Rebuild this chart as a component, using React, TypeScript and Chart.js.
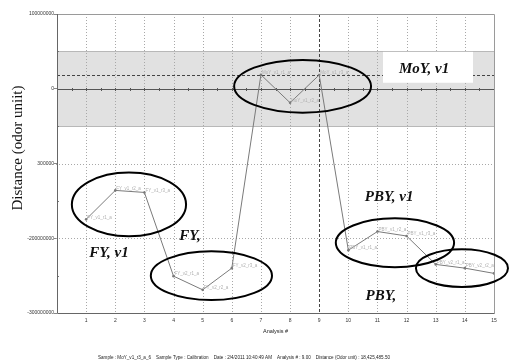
import React, { useEffect, useRef } from "react";
import { Chart, registerables } from "chart.js";

Chart.register(...registerables);

// ---- data ----
const analysisNums = [1, 2, 3, 4, 5, 6, 7, 8, 9, 10, 11, 12, 13, 14, 15];
const distances = [
  -174.7e6, -136e6, -138.7e6, -250.7e6, -269e6, -240e6, 18.7e6, -18.7e6,
  18425485.5, -216e6, -191e6, -197e6, -235e6, -240e6, -247e6,
];
const pointNames = [
  "FY_v1_r1_a", "FY_v1_r2_a", "FY_v1_r3_a", "FY_v2_r1_a", "FY_v2_r2_a",
  "FY_v2_r3_a", "MoY_v1_r1_a", "MoY_v1_r2_a", "MoY_v1_r3_a", "PBY_v1_r1_a",
  "PBY_v1_r2_a", "PBY_v1_r3_a", "PBY_v2_r1_a", "PBY_v2_r2_a", "PBY_v2_r3_a",
];
const yTickValues = [100e6, 0, -100e6, -200e6, -300e6];
const yTickLabels = ["100000000", "0", "300000", "-200000000", "-300000000"];
const xTickLabels = ["", "1", "2", "3", "4", "5", "6", "7", "8", "9", "10", "11", "12", "13", "14", "15"];
const bandRange = [-50e6, 50e6];
const hGridValues = [-100e6, -200e6];
const refAnalysis = 9;
const refDistance = 18425485.5;

const ellipseCx = [2.47, 5.3, 8.43, 11.6, 13.9];
const ellipseCy = [-154.7e6, -250e6, 3.3e6, -206e6, -240e6];
const ellipseRx = [1.96, 2.08, 2.35, 2.03, 1.58];
const ellipseRy = [42.7e6, 32.7e6, 35.3e6, 32.7e6, 25.3e6];

const noteTexts = ["FY, v1", "FY,", "MoY, v1", "PBY, v1", "PBY,"];
const noteX = [1.785, 4.566, 12.6, 11.4, 11.12];
const noteY = [-220e6, -197.3e6, 26.7e6, -145.3e6, -277.3e6];
const noteBoxX = [11.19, 14.28];
const noteBoxY = [8e6, 49.3e6];

const yTitle = "Distance (odor uniit)";
const xTitle = "Analysis #";
const footer =
  "Sample : MoY_v1_r3_a_6    Sample Type : Calibration    Date : 2/4/2011 10:40:49 AM    Analysis # : 9.00    Distance (Odor unit) : 18,425,485.50";

const decorPlugin = {
  id: "decor",
  beforeDatasetsDraw(chart: any) {
    const { ctx, chartArea: a, scales } = chart;
    const xs = scales.x;
    const ys = scales.y;
    ctx.save();
    // band
    const b1 = ys.getPixelForValue(bandRange[1]);
    const b0 = ys.getPixelForValue(bandRange[0]);
    ctx.fillStyle = "#e1e1e1";
    ctx.fillRect(a.left, b1, a.right - a.left, b0 - b1);
    ctx.strokeStyle = "#b8b8b8";
    ctx.lineWidth = 1;
    ctx.beginPath();
    ctx.moveTo(a.left, Math.round(b1) + 0.5);
    ctx.lineTo(a.right, Math.round(b1) + 0.5);
    ctx.moveTo(a.left, Math.round(b0) + 0.5);
    ctx.lineTo(a.right, Math.round(b0) + 0.5);
    ctx.stroke();

    // dotted grid
    ctx.strokeStyle = "#a8a8a8";
    ctx.setLineDash([1, 2]);
    ctx.beginPath();
    for (let i = 1; i < 15; i++) {
      if (i === refAnalysis) continue;
      const px = Math.round(xs.getPixelForValue(i)) + 0.5;
      ctx.moveTo(px, a.top);
      ctx.lineTo(px, a.bottom);
    }
    for (const v of hGridValues) {
      const py = Math.round(ys.getPixelForValue(v)) + 0.5;
      ctx.moveTo(a.left - 4, py);
      ctx.lineTo(a.right, py);
    }
    ctx.stroke();
    ctx.setLineDash([]);

    // zero line with ticks
    const zy = Math.round(ys.getPixelForValue(0)) + 0.5;
    ctx.strokeStyle = "#555";
    ctx.beginPath();
    ctx.moveTo(a.left, zy);
    ctx.lineTo(a.right, zy);
    for (let i = 1; i < 30; i++) {
      const px = Math.round(xs.getPixelForValue(i / 2)) + 0.5;
      ctx.moveTo(px, zy - 1.5);
      ctx.lineTo(px, zy + 1.5);
    }
    ctx.stroke();

    // minor y ticks
    ctx.strokeStyle = "#777";
    ctx.beginPath();
    for (let v = -250e6; v <= 50e6; v += 100e6) {
      const py = Math.round(ys.getPixelForValue(v)) + 0.5;
      ctx.moveTo(a.left, py);
      ctx.lineTo(a.left + 2, py);
    }
    ctx.stroke();

    // reference dashed lines
    ctx.strokeStyle = "#444";
    ctx.setLineDash([3, 2]);
    ctx.beginPath();
    const ry = Math.round(ys.getPixelForValue(refDistance)) + 0.5;
    ctx.moveTo(a.left, ry);
    ctx.lineTo(a.right, ry);
    const rx = Math.round(xs.getPixelForValue(refAnalysis)) + 0.5;
    ctx.moveTo(rx, a.top);
    ctx.lineTo(rx, a.bottom);
    ctx.stroke();
    ctx.setLineDash([]);

    // frame
    ctx.strokeStyle = "#9a9a9a";
    ctx.beginPath();
    ctx.moveTo(a.left + 0.5, a.top + 0.5);
    ctx.lineTo(a.right + 0.5, a.top + 0.5);
    ctx.lineTo(a.right + 0.5, a.bottom + 0.5);
    ctx.stroke();
    ctx.strokeStyle = "#666";
    ctx.beginPath();
    ctx.moveTo(a.left + 0.5, a.top);
    ctx.lineTo(a.left + 0.5, a.bottom + 0.5);
    ctx.lineTo(a.right + 0.5, a.bottom + 0.5);
    ctx.stroke();
    ctx.restore();
  },
  afterDatasetsDraw(chart: any) {
    const { ctx, chartArea: a, scales } = chart;
    const xs = scales.x;
    const ys = scales.y;
    ctx.save();
    // point labels
    ctx.save();
    ctx.beginPath();
    ctx.rect(a.left, a.top, a.right - a.left, a.bottom - a.top);
    ctx.clip();
    ctx.fillStyle = "#b0b0b0";
    ctx.font = "4.5px 'Liberation Sans', Arial, sans-serif";
    ctx.textAlign = "left";
    ctx.textBaseline = "middle";
    analysisNums.forEach((n, i) => {
      const px = xs.getPixelForValue(n);
      const py = ys.getPixelForValue(distances[i]);
      ctx.fillText(pointNames[i], px + 1, py - 2);
    });
    ctx.restore();

    // white box
    const bx0 = xs.getPixelForValue(noteBoxX[0]);
    const bx1 = xs.getPixelForValue(noteBoxX[1]);
    const by0 = ys.getPixelForValue(noteBoxY[1]);
    const by1 = ys.getPixelForValue(noteBoxY[0]);
    ctx.fillStyle = "#ffffff";
    ctx.fillRect(bx0, by0, bx1 - bx0, by1 - by0);

    // ellipses
    ctx.strokeStyle = "#000";
    ctx.lineWidth = 2;
    for (let i = 0; i < ellipseCx.length; i++) {
      const cx = xs.getPixelForValue(ellipseCx[i]);
      const cy = ys.getPixelForValue(ellipseCy[i]);
      const rx = Math.abs(xs.getPixelForValue(ellipseCx[i] + ellipseRx[i]) - cx);
      const ry = Math.abs(ys.getPixelForValue(ellipseCy[i] + ellipseRy[i]) - cy);
      ctx.beginPath();
      ctx.ellipse(cx, cy, rx, ry, 0, 0, Math.PI * 2);
      ctx.stroke();
    }

    // notes
    ctx.fillStyle = "#111";
    ctx.font = "bold italic 15px 'Liberation Serif', 'Times New Roman', serif";
    ctx.textAlign = "center";
    ctx.textBaseline = "middle";
    for (let i = 0; i < noteTexts.length; i++) {
      ctx.fillText(noteTexts[i], xs.getPixelForValue(noteX[i]), ys.getPixelForValue(noteY[i]));
    }
    ctx.restore();
  },
  afterDraw(chart: any) {
    const { ctx, chartArea: a } = chart;
    ctx.save();
    ctx.fillStyle = "#222";
    ctx.textAlign = "center";
    ctx.textBaseline = "middle";
    ctx.font = "5.5px 'Liberation Sans', Arial, sans-serif";
    ctx.fillText(xTitle, (a.left + a.right) / 2, a.bottom + 18);
    ctx.font = "5px 'Liberation Sans', Arial, sans-serif";
    ctx.fillText(footer, 244, 358, 292);
    ctx.translate(18, 148);
    ctx.rotate(-Math.PI / 2);
    ctx.font = "15px 'Liberation Serif', 'Times New Roman', serif";
    ctx.fillStyle = "#111";
    ctx.fillText(yTitle, 0, 0);
    ctx.restore();
  },
};

export default function App() {
  const ref = useRef<HTMLCanvasElement | null>(null);
  useEffect(() => {
    document.body.style.margin = "0";
    const canvas = ref.current;
    if (!canvas) return;
    const chart = new Chart(canvas, {
      type: "line",
      data: {
        datasets: [
          {
            data: analysisNums.map((n, i) => ({ x: n, y: distances[i] })),
            borderColor: "#7a7a7a",
            borderWidth: 1,
            pointRadius: 1.3,
            pointBackgroundColor: "#7a7a7a",
            pointBorderWidth: 0,
            fill: false,
            tension: 0,
          },
        ],
      },
      options: {
        responsive: false,
        animation: false,
        devicePixelRatio: 1,
        layout: { padding: { left: 0, top: 14, right: 15, bottom: 0 } },
        plugins: { legend: { display: false }, tooltip: { enabled: false }, title: { display: false } },
        scales: {
          x: {
            type: "linear",
            min: 0,
            max: 15,
            grid: { display: false, drawTicks: false },
            border: { display: false },
            ticks: {
              stepSize: 1,
              autoSkip: false,
              maxRotation: 0,
              padding: 5,
              color: "#333",
              font: { size: 5, family: "'Liberation Sans', Arial, sans-serif" },
              callback: (v: any) => xTickLabels[Math.round(Number(v))] ?? "",
            },
            afterFit: (s: any) => {
              s.height = 51;
            },
          },
          y: {
            type: "linear",
            min: -300e6,
            max: 100e6,
            grid: { display: true, drawOnChartArea: false, drawTicks: true, tickLength: 3, color: "#888" },
            border: { display: false },
            ticks: {
              stepSize: 100e6,
              padding: 0,
              color: "#333",
              font: { size: 5, family: "'Liberation Sans', Arial, sans-serif" },
              callback: (v: any) => {
                const idx = yTickValues.indexOf(Number(v));
                return idx >= 0 ? yTickLabels[idx] : "";
              },
            },
            afterFit: (s: any) => {
              s.width = 57;
            },
          },
        },
      },
      plugins: [decorPlugin],
    } as any);
    return () => chart.destroy();
  }, []);
  return (
    <div style={{ position: "absolute", left: 0, top: 0, width: 509, height: 364, background: "#fff" }}>
      <canvas ref={ref} width={509} height={364} style={{ display: "block" }} />
    </div>
  );
}
